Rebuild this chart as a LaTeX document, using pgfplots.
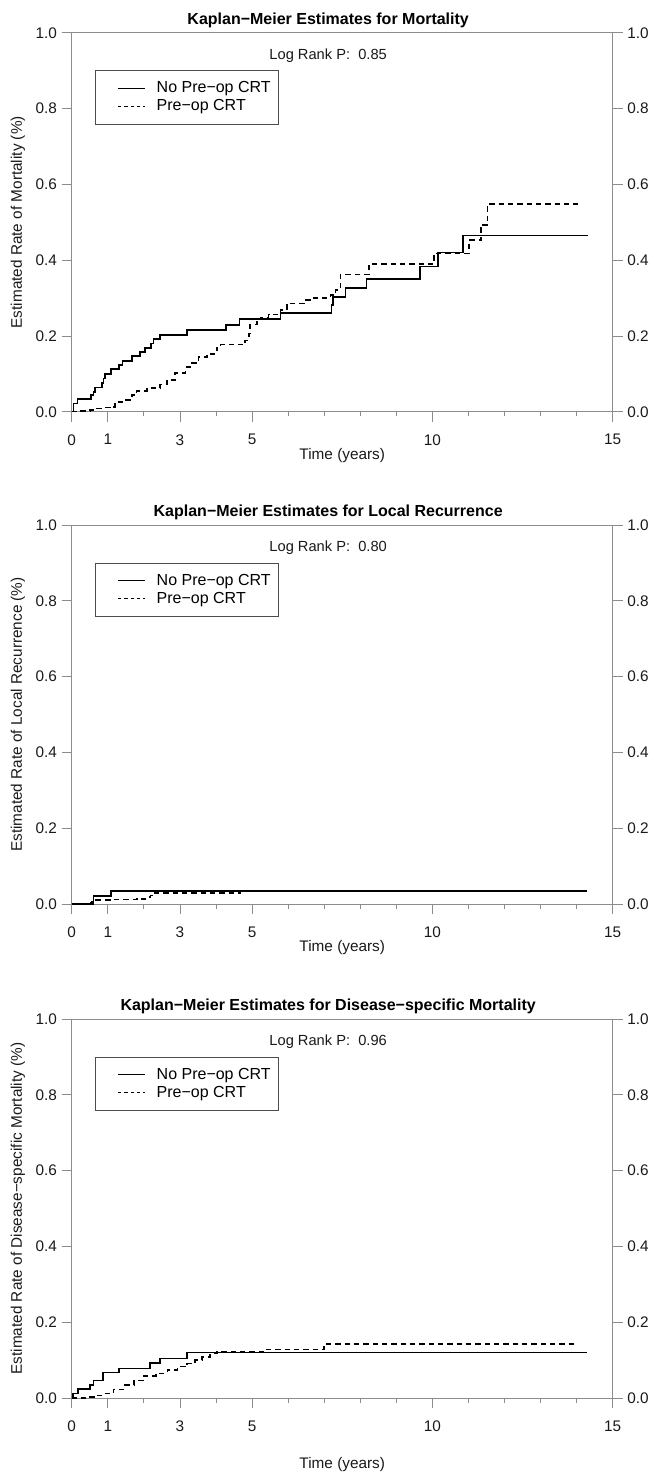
\documentclass[border=0pt]{standalone}
\usepackage{fontspec}
\setmainfont{Liberation Sans}
\usepackage{pgfplots}
\pgfplotsset{compat=1.18}

\definecolor{axisgray}{gray}{0.55}
\definecolor{textgray}{gray}{0.1}

% 1 px of the reference = 0.75pt
\pgfplotsset{
  km/.style={
    scale only axis, width=405.75pt, height=284.25pt,
    xmin=0, xmax=15, ymin=0, ymax=1,
    xtick={0,1,3,5,10,15},
    minor xtick={2,4,6,7,8,9,11,12,13,14},
    ytick={0,0.2,0.4,0.6,0.8,1.0},
    yticklabel style={/pgf/number format/.cd, fixed, fixed zerofill, precision=1},
    /pgf/number format/assume math mode=true,
    tick align=outside,
    major tick length=7.5pt, minor tick length=3.4pt,
    axis line style={axisgray, line width=0.6pt},
    every tick/.style={axisgray, line width=0.6pt},
    tick label style={font=\fontsize{11.5}{13}\selectfont, text=textgray},
  },
  kmmain/.style={km,
    xtick pos=left, ytick pos=left,
    xticklabel style={yshift=-6pt},
    title style={font=\bfseries\fontsize{12}{14}\selectfont,
      at={(axis description cs:0.474,1)}, yshift=-6pt},
    xlabel={Time (years)},
    every axis x label/.style={at={(axis description cs:0.5,0)}, anchor=center,
      yshift=-33pt, font=\fontsize{11.5}{13}\selectfont, text=textgray},
    every axis y label/.style={at={(axis description cs:-0.0993,0.5)}, rotate=90,
      anchor=center, font=\fontsize{11.5}{13}\selectfont, text=textgray},
    legend cell align=left,
    legend image code/.code={\path[draw=none, fill=none] (0pt,-1pt) rectangle (40pt,1pt);
      \draw[##1] (13pt,0pt) -- (33pt,0pt);},
    legend style={at={(axis description cs:0.043,0.901)}, anchor=north west,
      draw=black!70, line width=0.6pt, font=\fontsize{12}{14}\selectfont,
      inner xsep=4pt, inner ysep=6.5pt, row sep=0pt,
      nodes={inner xsep=2pt, inner ysep=1.8pt}},
  },
  kmright/.style={km,
    hide x axis, axis y line*=right,
  },
  solidkm/.style={const plot, black, line width=1.3pt, forget plot},
  dashkm/.style={const plot, black, line width=1.2pt, dash pattern=on 4pt off 3pt, forget plot},
}

\begin{document}
\begin{tikzpicture}
\path[use as bounding box] (0,0) rectangle (489pt,-1104.75pt);

% ---------------- panel 1: mortality ----------------
\begin{axis}[kmmain, at={(53.8pt,-308.8pt)}, anchor=south west,
  title={Kaplan−Meier Estimates for Mortality},
  ylabel={Estimated Rate of Mortality (\%)}]
\addlegendimage{black, line width=0.8pt}
\addlegendentry{No Pre−op CRT}
\addlegendimage{black, line width=0.8pt, dash pattern=on 2.5pt off 2.2pt}
\addlegendentry{Pre−op CRT}
\addplot[solidkm] coordinates {
  (0,0) (0.05,0.022) (0.16,0.033) (0.53,0.044) (0.6,0.053) (0.65,0.064)
  (0.83,0.075) (0.88,0.088) (0.92,0.099) (1.08,0.112) (1.31,0.124)
  (1.41,0.134) (1.67,0.147) (1.9,0.157) (2.04,0.168) (2.19,0.180)
  (2.27,0.192) (2.45,0.202) (3.19,0.215) (4.28,0.229) (4.65,0.245)
  (5.79,0.260) (7.2,0.282) (7.25,0.303) (7.59,0.327) (8.17,0.350)
  (9.66,0.383) (10.16,0.420) (10.85,0.465) (14.32,0.465)};
\addplot[dashkm] coordinates {
  (0,0) (0.23,0.002) (0.51,0.004) (0.69,0.009) (0.88,0.011) (1.06,0.013)
  (1.2,0.026) (1.48,0.031) (1.67,0.044) (1.8,0.055) (2.08,0.063)
  (2.45,0.072) (2.64,0.083) (2.87,0.102) (3.15,0.118) (3.33,0.128)
  (3.52,0.144) (3.75,0.152) (4.02,0.170) (4.12,0.177) (4.81,0.188)
  (4.91,0.206) (4.95,0.230) (5.14,0.237) (5.23,0.249) (5.46,0.257)
  (5.79,0.268) (5.97,0.286) (6.48,0.295) (6.71,0.300) (7.18,0.308)
  (7.31,0.321) (7.45,0.362) (8.24,0.390) (10.0,0.400) (10.04,0.418)
  (11.02,0.453) (11.34,0.493) (11.53,0.548) (14.03,0.548)};
\node[font=\fontsize{11}{13}\selectfont, text=textgray]
  at (axis description cs:0.474,0.94) {Log Rank P:\ \ 0.85};
\end{axis}
\begin{axis}[kmright, at={(53.8pt,-308.8pt)}, anchor=south west]
\end{axis}

% ---------------- panel 2: local recurrence ----------------
\begin{axis}[kmmain, at={(53.8pt,-678pt)}, anchor=south west,
  title={Kaplan−Meier Estimates for Local Recurrence},
  ylabel={Estimated Rate of Local Recurrence (\%)}]
\addlegendimage{black, line width=0.8pt}
\addlegendentry{No Pre−op CRT}
\addlegendimage{black, line width=0.8pt, dash pattern=on 2.5pt off 2.2pt}
\addlegendentry{Pre−op CRT}
\addplot[solidkm] coordinates {
  (0,0) (0.6,0.022) (1.08,0.034) (14.3,0.034)};
\addplot[dashkm] coordinates {
  (0,0) (0.40,0.002) (0.56,0.006) (0.68,0.010) (1.16,0.012) (1.8,0.014)
  (2.04,0.018) (2.18,0.022) (2.27,0.029) (4.67,0.034) (14.2,0.034)};
\node[font=\fontsize{11}{13}\selectfont, text=textgray]
  at (axis description cs:0.474,0.94) {Log Rank P:\ \ 0.80};
\end{axis}
\begin{axis}[kmright, at={(53.8pt,-678pt)}, anchor=south west]
\end{axis}

% ---------------- panel 3: disease-specific mortality ----------------
\begin{axis}[kmmain, at={(53.8pt,-1048.5pt)}, anchor=south west,
  title={Kaplan−Meier Estimates for Disease−specific Mortality},
  ylabel={Estimated Rate of Disease−specific Mortality (\%)},
  every axis x label/.append style={yshift=-17pt}]
\addlegendimage{black, line width=0.8pt}
\addlegendentry{No Pre−op CRT}
\addlegendimage{black, line width=0.8pt, dash pattern=on 2.5pt off 2.2pt}
\addlegendentry{Pre−op CRT}
\addplot[solidkm] coordinates {
  (0,0) (0.04,0.012) (0.18,0.024) (0.51,0.034) (0.6,0.046) (0.86,0.067)
  (1.31,0.078) (2.18,0.093) (2.45,0.104) (3.19,0.120) (14.3,0.120)};
\addplot[dashkm] coordinates {
  (0,0) (0.3,0.0) (0.5,0.003) (0.7,0.007) (0.9,0.012) (1.16,0.023)
  (1.44,0.034) (1.72,0.046) (2.0,0.058) (2.33,0.065) (2.65,0.074)
  (2.93,0.083) (3.19,0.091) (3.42,0.100) (3.61,0.109) (3.84,0.117)
  (4.03,0.122) (5.32,0.128) (6.99,0.142) (13.93,0.142)};
\node[font=\fontsize{11}{13}\selectfont, text=textgray]
  at (axis description cs:0.474,0.94) {Log Rank P:\ \ 0.96};
\end{axis}
\begin{axis}[kmright, at={(53.8pt,-1048.5pt)}, anchor=south west]
\end{axis}
\end{tikzpicture}
\end{document}
